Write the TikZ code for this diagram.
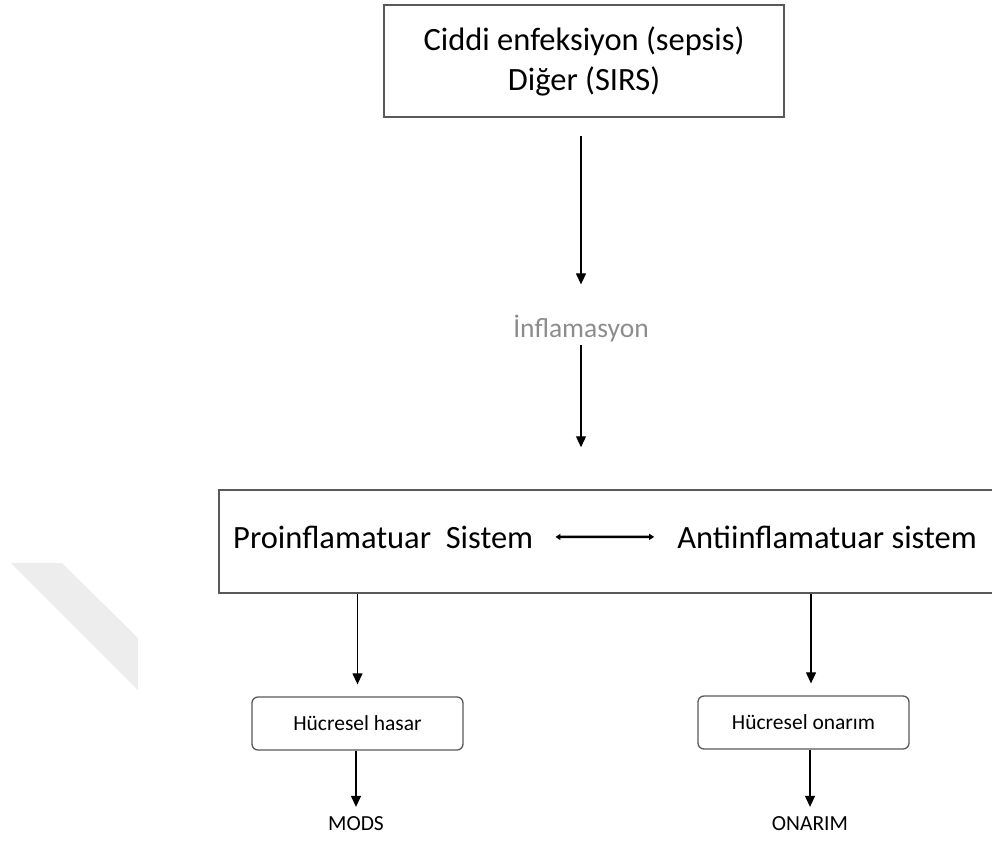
\documentclass[tikz,border=0pt]{standalone}
\usepackage{fontspec}
\setmainfont{Carlito}
\usetikzlibrary{arrows.meta}
\definecolor{boxline}{HTML}{595959}
\definecolor{inflgray}{HTML}{8C8C8C}
\definecolor{bandgray}{HTML}{EDEDED}
\begin{document}
\begin{tikzpicture}[x=1pt, y=-1pt,
	arr/.style={line width=1.2pt, -{Triangle[width=10pt,length=11pt]}},
	bigbox/.style={draw=boxline, line width=1.5pt, inner sep=0pt, align=center},
	smallbox/.style={draw=boxline, line width=1.3pt, rounded corners=6pt, inner sep=0pt,
		minimum width=211pt, minimum height=53pt, font=\fontsize{21.5}{26}\selectfont},
	bigtext/.style={inner sep=0pt, font=\fontsize{32.5}{40}\selectfont},
	endtext/.style={inner sep=0pt, anchor=base, font=\fontsize{21.5}{26}\selectfont}]
	\useasboundingbox (0,0) rectangle (992,841);
	% faint band on the left
	\fill[bandgray] (11,563) -- (62,563) -- (138,638) -- (138,690) -- cycle;
	% top box
	\node[bigbox, bigtext, minimum width=400pt, minimum height=112pt] (cause) at (584,61)
		{Ciddi enfeksiyon (sepsis)\\Diğer (SIRS)};
	\node[inner sep=0pt, anchor=base, text=inflgray, font=\fontsize{27.5}{32}\selectfont] (inflam) at (581,337) {İnflamasyon};
	% the two systems
	\node[bigbox, minimum width=774pt, minimum height=103pt] (sysbox) at (606,541.5) {};
	\node[bigtext, anchor=base west] (prosys) at (233,548) {Proinflamatuar\ \ Sistem};
	\node[bigtext, anchor=base east] (antisys) at (977,548) {Antiinflamatuar sistem};
	% outcomes
	\node[smallbox] (hasar) at (357.5,723.5) {Hücresel hasar};
	\node[smallbox] (onarim) at (803.5,722.5) {Hücresel onarım};
	\node[endtext] (mods) at (356,830) {MODS};
	\node[endtext] (onarimend) at (810,830) {ONARIM};
	% connectors
	\draw[arr, shorten <=18pt, shorten >=30pt] (cause.south -| inflam.north) -- (inflam.north);
	\draw[arr, shorten <=3pt, shorten >=42pt] (inflam.south) -- (inflam.south |- sysbox.north);
	\draw[line width=2.6pt, {Triangle[width=6pt,length=5pt]}-{Triangle[width=6pt,length=5pt]},
		shorten <=22pt, shorten >=23pt] (prosys.east) -- (antisys.west);
	\draw[arr, shorten >=12pt] (sysbox.south -| hasar.north) -- (hasar.north);
	\draw[arr, shorten >=12pt] ([xshift=7.5pt]sysbox.south -| onarim.north) -- ([xshift=7.5pt]onarim.north);
	\draw[arr, shorten >=9pt] (mods.north |- hasar.south) -- (mods.north);
	\draw[arr, shorten >=9pt] (onarimend.north |- onarim.south) -- (onarimend.north);
\end{tikzpicture}
\end{document}
